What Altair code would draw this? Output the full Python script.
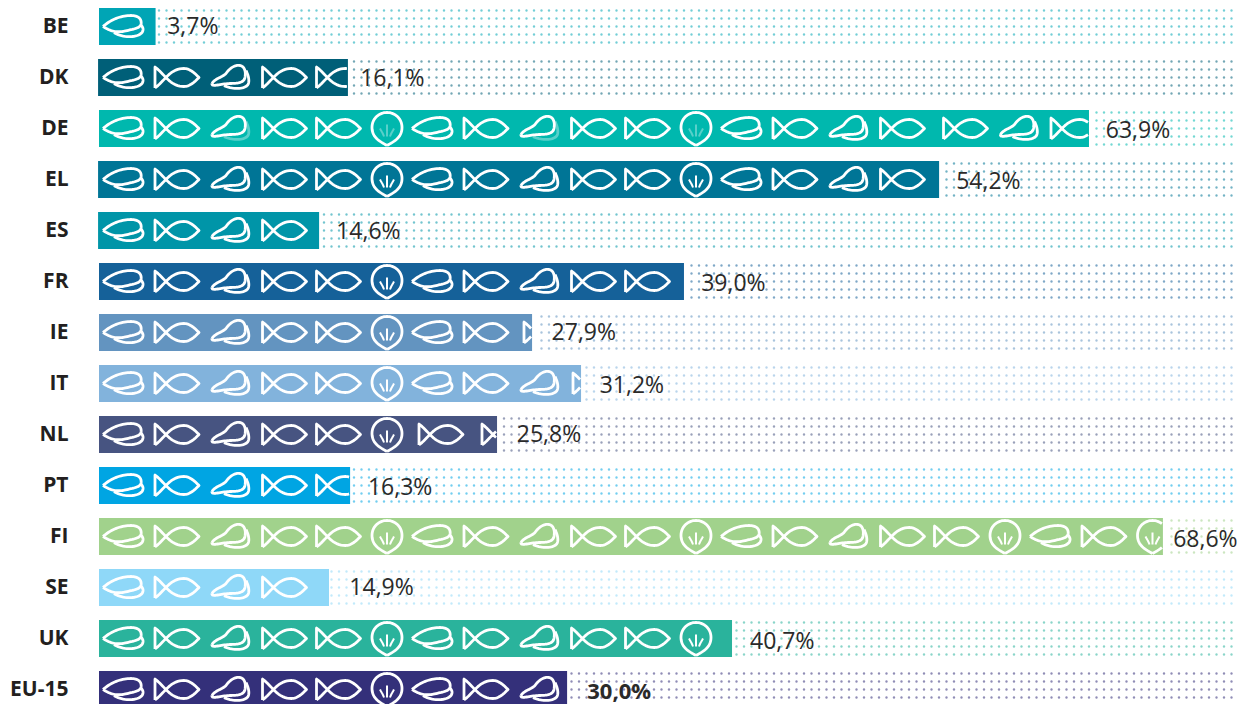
import altair as alt
import pandas as pd

# ---------- data ----------
rows = ["BE", "DK", "DE", "EL", "ES", "FR", "IE", "IT", "NL", "PT", "FI", "SE", "UK", "EU-15"]
labels = ["3,7%", "16,1%", "63,9%", "54,2%", "14,6%", "39,0%", "27,9%", "31,2%", "25,8%", "16,3%",
          "68,6%", "14,9%", "40,7%", "30,0%"]
# drawn bar ends (percent units on the bar scale; FR and ES are drawn shorter than labelled)
bar_end = [3.65, 16.06, 63.87, 54.2, 14.2, 37.74, 27.94, 31.1, 25.68, 16.2, 68.64, 14.84, 40.84, 30.2]
bar_start = [0, -0.06, 0, -0.06, -0.06, 0, 0, 0, 0, 0, 0, 0, 0, 0]
colors = ["#00a5b5", "#005f78", "#00b8ae", "#007596", "#0095a8", "#156199", "#6394c0",
          "#82b3dc", "#475481", "#00a5e3", "#a1d28c", "#8fd8f8", "#2ab39c", "#34307a"]
# label start, in percent units, and its small vertical shift within the row
label_at = [4.4, 16.85, 64.95, 55.3, 15.3, 38.85, 29.2, 32.3, 26.95, 17.35, 69.3, 16.15, 42.0, 31.5]
label_dy = [0, 1, 2, 2, 1, 2, 0, 2, 0, 2, 3, 0, 3, 2]
# icon sequence per row: M mussel, F fish, B blue mussel, S seed
seq = {
    "BE": "M", "DK": "MFBFF", "DE": "MFBFFSMFBFFSMFBFFBF", "EL": "MFBFFSMFBFFSMFBF",
    "ES": "MFBF", "FR": "MFBFFSMFBFF", "IE": "MFBFFSMFF", "IT": "MFBFFSMFBF",
    "NL": "MFBFFSFF", "PT": "MFBFF", "FI": "MFBFFSMFBFFSMFBFFSMFS", "SE": "MFBF",
    "UK": "MFBFFSMFBFFS", "EU-15": "MFBFFSMFB",
}

# ---------- layout ----------
PX = 15.5          # pixels per percent
LEFT = 99          # page x of zero
PAD_L = 91
W = 1139
STEP = 51
H = STEP * 14 - 14
BAR_H = 37

to_pct = lambda px: (px - LEFT) / PX
half = BAR_H / 2 / STEP   # half a bar, in row units

# icon advance (distance between centres) depends on the neighbouring glyphs
advance = {"MF": 54, "FB": 53, "BF": 54.5, "FF": 54, "FS": 48.5, "SM": 45, "SF": 54,
           "BB": 53, "FM": 54, "MS": 48}
# wider gaps before a few icons, (row, icon index): extra pixels
extra_gap = {("DE", 16): 9, ("IE", 8): 6, ("IT", 9): 1.5, ("NL", 7): 9}

# ---------- glyph outlines, drawn around (0,0) ----------
def cubic(p0, p1, p2, p3, n=18):
    pts = []
    for i in range(n + 1):
        t = i / n
        a = (1 - t) ** 3; b = 3 * t * (1 - t) ** 2; c = 3 * t * t * (1 - t); d = t ** 3
        pts.append((a * p0[0] + b * p1[0] + c * p2[0] + d * p3[0],
                    a * p0[1] + b * p1[1] + c * p2[1] + d * p3[1]))
    return pts

def chain(start, *segs):
    pts = [start]
    cur = start
    for s in segs:
        if len(s) == 3:
            pts += cubic(cur, *s)[1:]
            cur = s[2]
        else:
            pts.append(s[0])
            cur = s[0]
    return pts

GLYPHS = {
    "M": {"main": [
        chain((-20, 0), ((-12, -7), (-2, -11), (8, -11)), ((16, -11), (19, -7), (18, -2)),
              ((17, 2), (8, 3), (0, 5)), ((-8, 6), (-14, 4), (-20, 0))),
    ], "arc": [
        chain((-9, 6), ((-2, 11), (14, 12), (19, 6)), ((21, 3), (20, 0), (17, -2))),
    ]},
    "F": {"main": [
        chain((-22, 10.5), ((-12, 3), (-7, -9), (7, -9)), ((13, -9), (18, -4), (22, 0)),
              ((18, 4), (13, 9), (7, 9)), ((-7, 9), (-12, -3), (-22, -10.5)), ((-22, 10.5),)),
    ]},
    "B": {"main": [
        chain((-18, 6), ((-15, 1), (-8, 0), (-4, -4)), ((0, -10), (6, -13), (10, -12)),
              ((15, -11), (16, -5), (15, 0)), ((14, 5), (8, 6), (0, 6)), ((-8, 6), (-19, 10), (-18, 6))),
    ], "arc": [
        chain((-6, 8), ((2, 12), (15, 12), (18, 7)), ((20, 3), (18, -3), (16, -7))),
    ]},
    "S": {"main": [
        chain((0, 17), ((-5, 14), (-15, 10), (-15, -1)), ((-15, -10), (-8, -16), (0, -16)),
              ((8, -16), (15, -10), (15, -1)), ((15, 10), (5, 14), (0, 17))),
    ], "arc": [
        chain((0, 8), ((0, 4), (0, 0), (0, -4))),
        chain((-3, 8), ((-4, 5), (-6, 2), (-7, 0))),
        chain((3, 8), ((4, 5), (6, 2), (7, 0))),
    ]},
}

def clip_path(polys, xmax):
    """Path text of polylines, cut where they pass the bar's right edge."""
    out = []
    for poly in polys:
        pen = False
        for i, (x, y) in enumerate(poly):
            if x <= xmax:
                if not pen:
                    if i and poly[i - 1][0] > xmax:
                        px, py = poly[i - 1]
                        t = (xmax - px) / (x - px)
                        out.append(f"M{xmax:.2f},{py + t * (y - py):.2f}L{x:.2f},{y:.2f}")
                    else:
                        out.append(f"M{x:.2f},{y:.2f}")
                    pen = True
                else:
                    out.append(f"L{x:.2f},{y:.2f}")
            elif pen:
                px, py = poly[i - 1]
                t = (xmax - px) / (x - px)
                out.append(f"L{xmax:.2f},{py + t * (y - py):.2f}")
                pen = False
    return "".join(out)

FAINT = {("DE", 2), ("DE", 5), ("DE", 8), ("DE", 11)}
icon_rows = []
for ri, r in enumerate(rows):
    end_px = LEFT + bar_end[ri] * PX
    cx = 123
    s = seq[r]
    for i, g in enumerate(s):
        if i:
            cx += advance[s[i - 1] + g] + extra_gap.get((r, i), 0)
        for part, polys in GLYPHS[g].items():
            path = clip_path(polys, end_px - cx - 1)
            if not path:
                continue
            faint = part == "arc" and (r, i) in FAINT
            icon_rows.append({"y": ri, "x": to_pct(cx), "path": path, "op": 0.35 if faint else 1,
                              "sw": 2 if part == "arc" and g == "S" else 2.8})
icons = pd.DataFrame(icon_rows)

dot_rows = []
for ri, r in enumerate(rows):
    start = LEFT + bar_end[ri] * PX + 2
    x = 1231.5
    while x > start:
        for off in (-16, -8, 0, 8, 16):
            dot_rows.append({"y": ri + off / STEP, "x": round(to_pct(x), 3), "color": colors[ri]})
        x -= 7.5
dots = pd.DataFrame(dot_rows)

bars = pd.DataFrame({"y0": [i - half for i in range(14)], "y1": [i + half for i in range(14)],
                     "x0": bar_start, "x1": bar_end, "color": colors})
texts = pd.DataFrame({"y": [i + d / STEP for i, d in enumerate(label_dy)], "x": label_at, "label": labels,
                      "bold": [r == "EU-15" for r in rows]})

x_scale = alt.Scale(domain=[0, W / PX], range=[0, W], nice=False, zero=False)
y_scale = alt.Scale(domain=[-half, (H - BAR_H / 2) / STEP], range=[0, H], nice=False, zero=False)
row_js = "[" + ",".join(f"'{r}'" for r in rows) + "]"
y_axis = alt.Axis(domain=False, ticks=False, grid=False, labelPadding=31, labelFont="Open Sans",
                  labelFontWeight="bold", labelFontSize=21, labelColor="#231f20", title=None,
                  labelLimit=200, values=list(range(14)),
                  labelExpr=f"{row_js}[datum.value]", labelOverlap=False)
y_enc = alt.Y("y:Q", scale=y_scale, title=None, axis=y_axis)
x_enc = alt.X("x:Q", scale=x_scale, axis=None)

dot_layer = alt.Chart(dots).mark_circle(size=5.5, opacity=0.55).encode(
    x=x_enc, y=y_enc, color=alt.Color("color:N", scale=None),
)
bar_layer = alt.Chart(bars).mark_rect().encode(
    x=alt.X("x0:Q", scale=x_scale, axis=None), x2="x1:Q",
    y=alt.Y("y0:Q", scale=y_scale, title=None, axis=y_axis), y2="y1:Q",
    color=alt.Color("color:N", scale=None),
)
icon_layer = alt.Chart(icons).mark_point(filled=False, size=4, color="white", strokeJoin="round").encode(
    x=x_enc, y=y_enc,
    shape=alt.Shape("path:N", scale=None),
    opacity=alt.Opacity("op:Q", scale=None),
    strokeWidth=alt.StrokeWidth("sw:Q", scale=None),
)
text_base = alt.Chart(texts).encode(x=x_enc, y=y_enc, text="label:N")
text_layer = text_base.transform_filter("!datum.bold").mark_text(
    align="left", baseline="middle", font="Open Sans", fontSize=23, color="#2b2a29")
text_bold = text_base.transform_filter("datum.bold").mark_text(
    align="left", baseline="middle", font="Open Sans", fontSize=22, fontWeight="bold", color="#2b2a29")

chart = (dot_layer + bar_layer + icon_layer + text_layer + text_bold).properties(
    width=W, height=H,
    autosize=alt.AutoSizeParams(type="none"),
    padding={"left": PAD_L, "top": 0, "right": 0, "bottom": 0},
).configure_view(stroke=None)

chart.save("out.html", embed_options={"renderer": "svg", "actions": False})
